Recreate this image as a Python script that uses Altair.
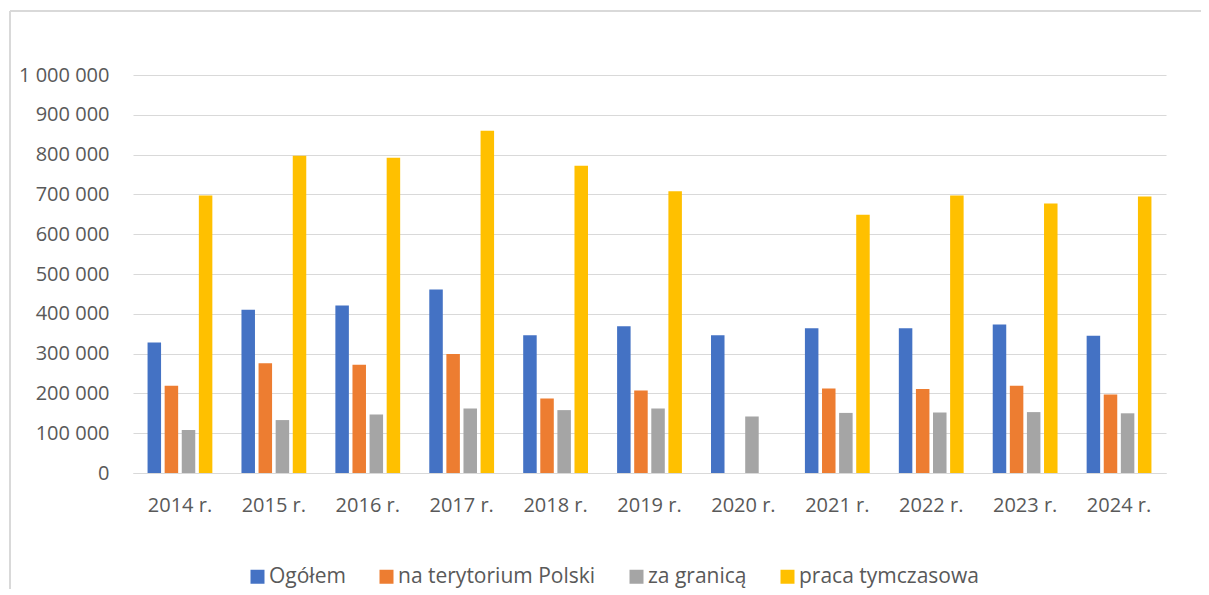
import altair as alt
import pandas as pd

years = ["2014 r.", "2015 r.", "2016 r.", "2017 r.", "2018 r.", "2019 r.",
         "2020 r.", "2021 r.", "2022 r.", "2023 r.", "2024 r."]
series = ["Ogółem", "na terytorium Polski", "za granicą", "praca tymczasowa"]
colors = ["#4472C4", "#ED7D31", "#A5A5A5", "#FFC000"]

ogolem = [328000, 410000, 421000, 461000, 346000, 369000, 346000, 364000, 364000, 373000, 345000]
polska = [219000, 276000, 272000, 299000, 187000, 207000, None, 212000, 211000, 219000, 197000]
granica = [108000, 133000, 147000, 162000, 158000, 162000, 142000, 151000, 152000, 153000, 150000]
tymczasowa = [697000, 797000, 792000, 860000, 772000, 708000, None, 649000, 697000, 677000, 695000]

y_ticks = [0, 100000, 200000, 300000, 400000, 500000, 600000, 700000, 800000, 900000, 1000000]

rows = []
for name, vals in zip(series, [ogolem, polska, granica, tymczasowa]):
    for yr, v in zip(years, vals):
        if v is not None:
            rows.append({"rok": yr, "seria": name, "wartosc": v})
df = pd.DataFrame(rows)

FONT = "Open Sans"
TXT = "#595959"

bars = alt.Chart(df).mark_bar().encode(
    x=alt.X("rok:N", sort=years, title=None,
            scale=alt.Scale(paddingInner=0.31, paddingOuter=0.155),
            axis=alt.Axis(labelAngle=0, ticks=False, domain=True, domainColor="#d9d9d9",
                          domainWidth=1, labelPadding=22, labelFontSize=20, labelFont=FONT,
                          labelColor=TXT, grid=False)),
    xOffset=alt.XOffset("seria:N", sort=series,
                        scale=alt.Scale(paddingInner=0.21, paddingOuter=0)),
    y=alt.Y("wartosc:Q", title=None,
            scale=alt.Scale(domain=[0, 1000000], nice=False),
            axis=alt.Axis(values=y_ticks, ticks=False, domain=False, grid=True,
                          gridColor="#d9d9d9", gridWidth=1, labelPadding=24,
                          labelFontSize=20, labelFont=FONT, labelColor=TXT,
                          labelExpr="replace(replace(format(datum.value, ','), ',', ' '), ',', ' ')")),
    color=alt.Color("seria:N", sort=series, title=None,
                    scale=alt.Scale(domain=series, range=colors),
                    legend=alt.Legend(orient="none", direction="horizontal", legendX=114,
                                      legendY=491, symbolType="square", symbolSize=196,
                                      symbolStrokeWidth=0, labelFontSize=21, labelFont=FONT,
                                      labelColor=TXT, columnPadding=30, labelOffset=1,
                                      labelLimit=0, padding=0, columns=4)),
)

border_top = alt.Chart(df).mark_rule(color="#d9d9d9", strokeWidth=1.5).encode(
    x=alt.value(-123), x2=alt.value(1070), y=alt.value(-64))
border_left = alt.Chart(df).mark_rule(color="#d9d9d9", strokeWidth=1.5).encode(
    x=alt.value(-123), y=alt.value(-64), y2=alt.value(520))

chart = alt.layer(bars, border_top, border_left).properties(
    width=1033, height=398,
    background="white",
    autosize=alt.AutoSizeParams(type="none"),
    padding={"left": 125, "top": 67, "right": 35, "bottom": 116},
).configure_view(stroke=None)

chart.save("out.html", embed_options={"renderer": "svg", "actions": False})
